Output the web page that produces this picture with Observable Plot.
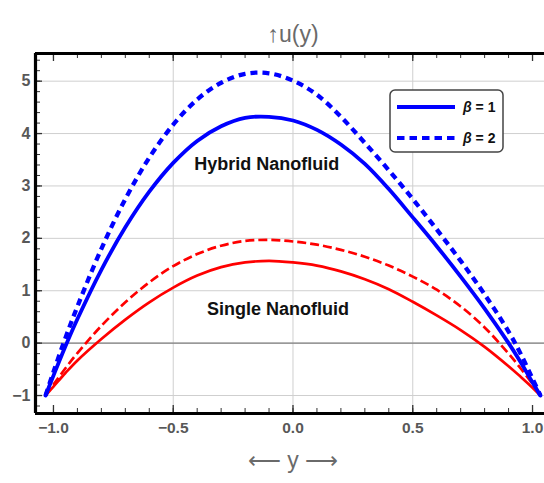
<!DOCTYPE html>
<html><head><meta charset="utf-8">
<script src="https://cdn.jsdelivr.net/npm/d3@7"></script>
<script src="https://cdn.jsdelivr.net/npm/@observablehq/plot@0.6"></script>
<style>
body{margin:0;background:#fff;}
#chart{width:544px;height:483px;}
</style></head><body><div id="chart"></div>
<script>
// y positions (horizontal axis of the chart)
const yPos = [-1.033,-1.0,-0.95,-0.9,-0.8,-0.7,-0.6,-0.5,-0.4,-0.3,-0.2,-0.1,0,0.1,0.2,0.3,0.4,0.5,0.6,0.7,0.8,0.9,0.95,1.0,1.033];
// u(y) values
const hybridBeta1 = [-1,-0.62,-0.06,0.46,1.40,2.21,2.89,3.44,3.86,4.14,4.30,4.32,4.25,4.07,3.79,3.42,2.94,2.40,1.85,1.27,0.66,0.0,-0.36,-0.75,-1];
const hybridBeta2 = [-1,-0.55,0.10,0.70,1.80,2.75,3.54,4.17,4.65,4.97,5.14,5.15,5.01,4.74,4.32,3.82,3.30,2.75,2.17,1.57,0.93,0.22,-0.20,-0.68,-1];
const singleBeta1 = [-1,-0.83,-0.57,-0.33,0.08,0.45,0.78,1.06,1.29,1.45,1.54,1.57,1.54,1.48,1.37,1.22,1.03,0.79,0.53,0.25,-0.07,-0.44,-0.64,-0.85,-1];
const singleBeta2 = [-1,-0.79,-0.48,-0.19,0.33,0.78,1.16,1.47,1.70,1.86,1.95,1.97,1.94,1.88,1.78,1.65,1.48,1.27,1.02,0.70,0.30,-0.20,-0.48,-0.78,-1];

const xTicks = [-1.0,-0.5,0.0,0.5,1.0];
const yTicks = [-1,0,1,2,3,4,5];
const xGrid = [-0.5,0.0,0.5];
const legendLabels = ["1","2"];
const annotations = [
  {label:"Hybrid Nanofluid", y:-0.11, u:3.42},
  {label:"Single Nanofluid", y:-0.063, u:0.65}
];
const titleText = "↑u(y)";
const xLabel = "⟵ y ⟶";

const xDomain = [-1.075, 1.05];
const yDomain = [-1.343, 5.528];
const xMinor = d3.range(-10, 11).map(i => i / 10);
const yMinor = d3.range(-6, 28).map(i => i / 5);

const mk = (vals) => yPos.map((y, i) => ({y, u: vals[i]}));
const fmtX = d => d.toFixed(1).replace("-", "−");
const fmtY = d => String(d).replace("-", "−");
const font = "'Liberation Sans', Arial, sans-serif";

const chart = Plot.plot({
  width: 544, height: 483,
  marginLeft: 35, marginRight: 0, marginTop: 53, marginBottom: 70,
  style: {fontFamily: font, color: "#585858", background: "#fff"},
  x: {domain: xDomain, axis: null},
  y: {domain: yDomain, axis: null},
  marks: [
    Plot.gridY(yTicks, {stroke: "#cfcfcf", strokeOpacity: 1, strokeWidth: 1}),
    Plot.gridX(xGrid, {stroke: "#cfcfcf", strokeOpacity: 1, strokeWidth: 1}),
    Plot.ruleY([0], {stroke: "#808080", strokeWidth: 1.4}),
    Plot.line(mk(singleBeta1), {x: "y", y: "u", stroke: "#ff0000", strokeWidth: 2.7, curve: "catmull-rom"}),
    Plot.line(mk(singleBeta2), {x: "y", y: "u", stroke: "#ff0000", strokeWidth: 2.7, strokeDasharray: "9,4", strokeLinecap: "butt", curve: "catmull-rom"}),
    Plot.line(mk(hybridBeta1), {x: "y", y: "u", stroke: "#0000ff", strokeWidth: 3.8, curve: "catmull-rom"}),
    Plot.line(mk(hybridBeta2), {x: "y", y: "u", stroke: "#0000ff", strokeWidth: 4.3, strokeDasharray: "7,5", strokeLinecap: "butt", curve: "catmull-rom"}),
    Plot.text(annotations, {x: "y", y: "u", text: "label", fontSize: 18, fontWeight: "bold", fill: "#111"}),
    // inner ticks bottom
    Plot.ruleX(xMinor, {x: d => d, y1: yDomain[0], y2: yDomain[0], insetTop: -5, stroke: "#333", strokeWidth: 1}),
    Plot.ruleX(xTicks, {x: d => d, y1: yDomain[0], y2: yDomain[0], insetTop: -8, stroke: "#333", strokeWidth: 1.3}),
    // inner ticks top
    Plot.ruleX(xMinor, {x: d => d, y1: yDomain[1], y2: yDomain[1], insetBottom: -5, stroke: "#333", strokeWidth: 1}),
    Plot.ruleX(xTicks, {x: d => d, y1: yDomain[1], y2: yDomain[1], insetBottom: -8, stroke: "#333", strokeWidth: 1.3}),
    // inner ticks left
    Plot.ruleY(yMinor, {y: d => d, x1: xDomain[0], x2: xDomain[0], insetRight: -5, stroke: "#333", strokeWidth: 1}),
    Plot.ruleY(yTicks, {y: d => d, x1: xDomain[0], x2: xDomain[0], insetRight: -7, stroke: "#333", strokeWidth: 1.3}),
    // frame
    Plot.ruleX([xDomain[0]], {stroke: "#000", strokeWidth: 3.2}),
    Plot.ruleY([yDomain[0], yDomain[1]], {stroke: "#000", strokeWidth: 3.2}),
    // axes
    Plot.axisX(xTicks, {label: null, tickSize: 0, tickPadding: 8, tickFormat: fmtX, fontSize: 15.5, fontWeight: "bold", fill: "#585858"}),
    Plot.axisY(yTicks, {label: null, tickSize: 0, tickPadding: 5, tickFormat: fmtY, fontSize: 16, fontWeight: "bold", fill: "#585858"}),
    // title & axis label
    Plot.text([titleText], {x: 0, frameAnchor: "top", dy: -28, fontSize: 23, fill: "#6a6a6a"}),
    Plot.text([xLabel], {x: 0, frameAnchor: "bottom", dy: 54, fontSize: 23, fill: "#6a6a6a"})
  ]
});

// legend (inset box)
const svg = d3.select(chart);
const g = svg.append("g").attr("font-family", font).attr("text-anchor", "start");
g.append("rect").attr("x", 390).attr("y", 90).attr("width", 113).attr("height", 62)
  .attr("rx", 5).attr("fill", "#fff").attr("stroke", "#444").attr("stroke-width", 1.5);
legendLabels.forEach((b, i) => {
  const yy = 107 + i * 31;
  g.append("line").attr("x1", 397).attr("x2", 455).attr("y1", yy).attr("y2", yy)
    .attr("stroke", "#0000ff").attr("stroke-width", 4)
    .attr("stroke-dasharray", i === 0 ? null : "7.5,5");
  const t = g.append("text").attr("x", 463).attr("y", yy + 5).attr("font-size", 14)
    .attr("font-weight", "bold").attr("fill", "#111").attr("text-anchor", "start");
  t.append("tspan").attr("font-style", "italic").text("β");
  t.append("tspan").text(" = " + b);
});

document.getElementById("chart").append(chart);
</script>
</body></html>
